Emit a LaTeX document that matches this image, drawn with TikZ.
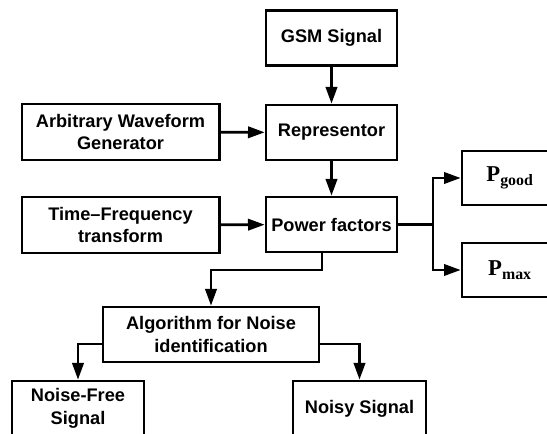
\documentclass[tikz,border=0pt]{standalone}
\usepackage{fontspec}
\setmainfont{Liberation Sans}
\newfontfamily\tnr{Liberation Serif}
\usepackage{xcolor}
\usepackage{tikz}
\usetikzlibrary{arrows.meta}

\newcommand{\boxfont}{\fontsize{13.65pt}{17pt}\selectfont\bfseries}

\begin{document}
\begin{tikzpicture}[x=0.75pt,y=0.75pt,yscale=-1,xscale=1,
  blockbox/.style={draw,line width=2pt,inner sep=0pt,align=center,font=\boxfont,
    minimum width=98.25pt,minimum height=41.25pt},
  widebox/.style={blockbox,minimum width=148pt,minimum height=42pt},
  outbox/.style={blockbox,minimum width=72pt,minimum height=40.5pt},
  wire/.style={line width=2pt},
  arr/.style={wire,-{Triangle[length=12.5pt,width=8.5pt]}}]
\useasboundingbox (0,0) rectangle (547,434);
\clip (0,0) rectangle (547,434);

%Shape: Rectangle
\node [blockbox] (gsm) at (331.5,38) {GSM Signal};
%Shape: Rectangle
\node [blockbox] (rep) at (331.5,132.5) {Representor};
%Shape: Rectangle
\node [widebox] (awg) at (120.5,132) {Arbitrary Waveform\\Generator};
%Shape: Rectangle
\node [widebox] (tft) at (120.5,225) {Time–Frequency\\transform};
%Shape: Rectangle
\node [blockbox] (pf) at (331.5,224.5) {Power factors};
%Shape: Rectangle
\node [outbox] (pgood) at (510,178) {\tnr\fontsize{17pt}{20pt}\selectfont P\textsubscript{good}};
%Shape: Rectangle
\node [outbox] (pmax) at (510,270) {\tnr\fontsize{17pt}{20pt}\selectfont P\textsubscript{max}};
%Shape: Rectangle
\node [widebox,minimum width=162pt,minimum height=41.25pt] (algo) at (211,334.5) {Algorithm for Noise\\identification};
%Shape: Rectangle
\node [blockbox,minimum width=99pt] (nfree) at (78,408.5) {Noise-Free\\Signal};
%Shape: Rectangle
\node [blockbox,minimum width=99.75pt] (noisy) at (359.5,408.5) {Noisy Signal};

% branch points
\coordinate (pfsplit) at (433,224.5);
\coordinate (pfdown) at (322,270);
\coordinate (algout) at (79,344);

%Straight Lines
\draw [arr] (gsm) -- (rep);
\draw [arr] (awg) -- (rep);
\draw [arr] (rep) -- (pf);
\draw [arr] (tft) -- (pf);
\draw [wire] (pf.east) -- (pfsplit);
\draw [arr] (pfsplit) |- (pgood.west);
\draw [arr] (pfsplit) |- (pmax.west);
\draw [arr] (pfdown |- pf.south) -- (pfdown) -| (algo.north);
\draw [arr] (algo.west |- algout) -| (nfree.north);
\draw [arr] (algo.east |- algout) -| (noisy.north);

\end{tikzpicture}
\end{document}
